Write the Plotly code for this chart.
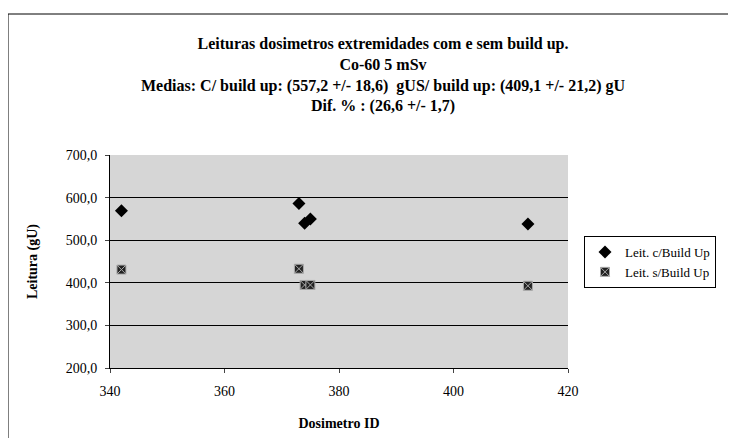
import plotly.graph_objects as go

dosimetro_ids = [342, 373, 374, 375, 413]
leit_com_buildup = [569, 586, 540, 550, 538]
leit_sem_buildup = [431, 433, 395, 395, 393]
series_names = ["Leit. c/Build Up", "Leit. s/Build Up"]
x_ticks = [340, 360, 380, 400, 420]
y_ticks = [200, 300, 400, 500, 600, 700]

title_lines = [
    "Leituras dosimetros extremidades com e sem build up.",
    "Co-60 5 mSv",
    "Medias: C/ build up: (557,2 +/- 18,6)  gUS/ build up: (409,1 +/- 21,2) gU",
    "Dif. % : (26,6 +/- 1,7)",
]

FONT = "Liberation Serif, Times New Roman, serif"
O = 8  # page offset of the figure inside the browser window
W, H = 720, 430
# reference-screen geometry of plot area
PX0, PX1, PY0, PY1 = 110, 568, 155, 368
L, T = PX0 - O, PY0 - O
R = W - (PX1 - O)
B = H - (PY1 - O)
pw, ph = W - L - R, H - T - B


def px(xs):
    return (xs - PX0) / (PX1 - PX0)


def py(ys):
    return (PY1 - ys) / (PY1 - PY0)


fig = go.Figure()
fig.add_trace(go.Scatter(
    x=dosimetro_ids, y=leit_com_buildup, mode="markers", name=series_names[0],
    marker=dict(symbol="diamond", size=10, color="black", line=dict(width=0)),
))
fig.add_trace(go.Scatter(
    x=dosimetro_ids, y=leit_sem_buildup, mode="markers", name=series_names[1],
    marker=dict(symbol="square-x", size=9, color="#222222", line=dict(width=1, color="#aaaaaa")),
))

# outer chart border (left and top visible)
fig.add_shape(type="rect", xref="paper", yref="paper",
              x0=px(8), x1=px(760), y0=py(470), y1=py(14),
              line=dict(color="black", width=1), layer="below")

fig.add_annotation(
    text="<br>".join("<b>%s</b>" % s for s in title_lines),
    xref="paper", yref="paper", x=px(383), y=py(75),
    xanchor="center", yanchor="middle", showarrow=False,
    font=dict(family=FONT, size=16, color="black"),
)

fig.update_layout(
    width=W, height=H,
    margin=dict(l=L, r=R, t=T, b=B, autoexpand=False),
    paper_bgcolor="white",
    plot_bgcolor="#d6d6d6",
    separators=",.",
    font=dict(family=FONT, size=14, color="black"),
    legend=dict(
        x=px(584), y=py(236), xanchor="left", yanchor="top",
        bordercolor="black", borderwidth=1, bgcolor="white",
        font=dict(family=FONT, size=13), tracegroupgap=0,
        itemwidth=30,
    ),
    showlegend=True,
)
fig.update_xaxes(
    range=[340, 420], tickvals=x_ticks, ticks="outside", ticklen=4,
    showgrid=False, zeroline=False, showline=True, linecolor="black",
    mirror=False, automargin=False, ticklabelstandoff=6,
    tickfont=dict(family=FONT, size=14),
    title=dict(text="<b>Dosimetro ID</b>", font=dict(family=FONT, size=14), standoff=20),
)
fig.update_yaxes(
    range=[200, 700], tickvals=y_ticks, tickformat=".1f", ticks="outside", ticklen=4,
    showgrid=True, gridcolor="black", gridwidth=1, zeroline=False,
    showline=True, linecolor="black", automargin=False, ticklabelstandoff=5,
    tickfont=dict(family=FONT, size=14),
    title=dict(text="<b>Leitura (gU)</b>", font=dict(family=FONT, size=14), standoff=24),
)

fig.write_html("out.html")
